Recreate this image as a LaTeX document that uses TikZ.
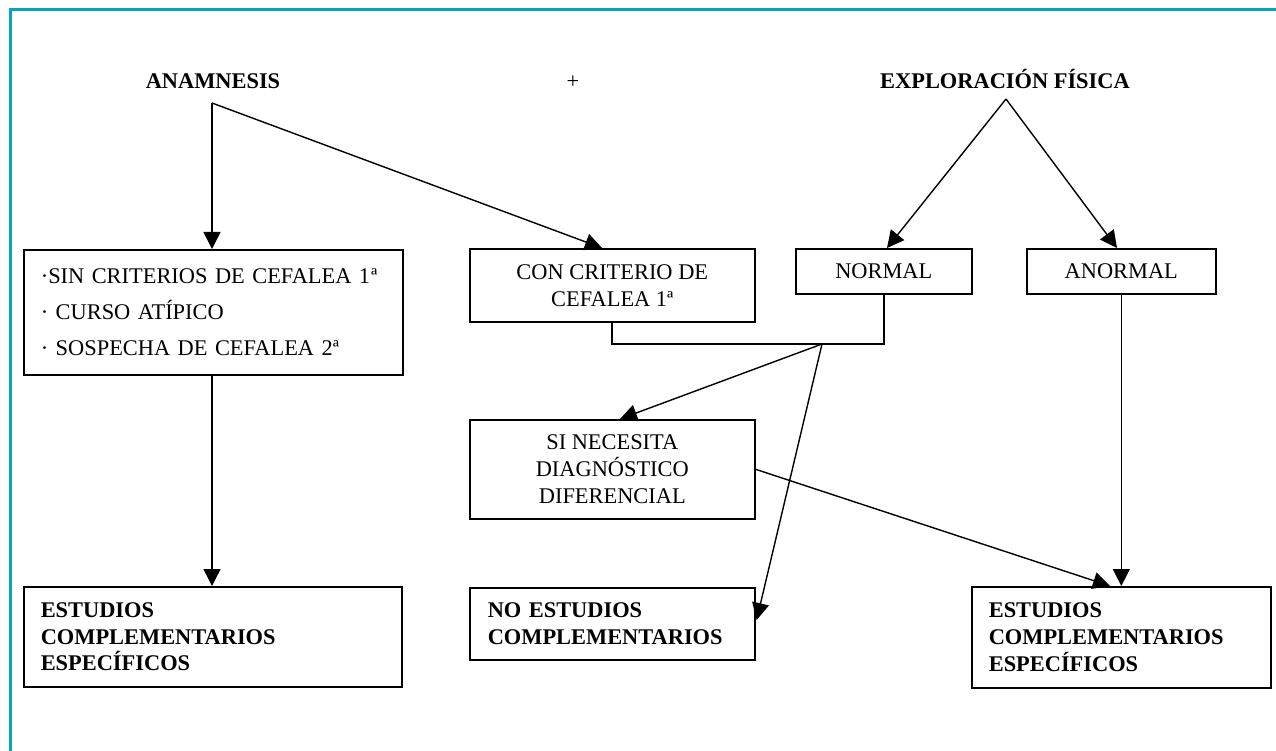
\documentclass[tikz,border=0pt]{standalone}
\usepackage{fontspec}
\setmainfont{Liberation Serif}
\usetikzlibrary{arrows.meta,calc}
\definecolor{frameteal}{HTML}{0AA2C4}
\begin{document}
\begin{tikzpicture}[x=1pt,y=-1pt,
  every node/.style={font=\fontsize{22.4}{27}\selectfont, inner sep=0pt},
  box/.style={draw, line width=1.6pt, anchor=north west},
  lbox/.style={box, align=left, inner xsep=17pt},
  cbox/.style={box, align=center},
  bbox/.style={lbox, font=\fontsize{22.4}{26.7}\selectfont\bfseries},
  hdr/.style={font=\fontsize{22.4}{27}\selectfont\bfseries},
  conn/.style={line width=1.4pt},
  arr/.style={conn, -{Triangle[length=17pt,width=17pt]}}]
\useasboundingbox (0,0) rectangle (1276,751);
% frame
\draw[frameteal, line width=3pt] (10,760) -- (10,10) -- (1290,10);
% headers
\node[hdr, anchor=base] (ana) at (213,89) {ANAMNESIS};
\node[anchor=base] (plus) at (573,89) {+};
\node[hdr, anchor=base] (exp) at (1005,89) {EXPLORACIÓN FÍSICA};
\coordinate (anaA) at (212,103);
\coordinate (expA) at (1006,99);
% boxes row 1
\node[lbox, minimum width=379pt, minimum height=125pt, text width=345pt] (b1) at (23,249)
  {·SIN CRITERIOS DE CEFALEA 1\kern1pt ª\\[9pt] · CURSO ATÍPICO\\[9pt] · SOSPECHA DE CEFALEA 2ª};
\node[cbox, minimum width=285pt, minimum height=73pt] (b2) at (469,248)
  {CON CRITERIO DE\\CEFALEA 1ª};
\node[cbox, minimum width=176pt, minimum height=45pt] (nor) at (795,248) {NORMAL};
\node[cbox, minimum width=189pt, minimum height=45pt] (anor) at (1026,248) {ANORMAL};
% middle
\node[cbox, minimum width=285pt, minimum height=99pt] (dif) at (469,419)
  {SI NECESITA\\DIAGNÓSTICO\\DIFERENCIAL};
% bottom row
\node[bbox, minimum width=378pt, minimum height=100pt, text width=344pt] (e1) at (23,586)
  {ESTUDIOS\\COMPLEMENTARIOS\\ESPECÍFICOS};
\node[bbox, inner xsep=18pt, minimum width=285pt, minimum height=72pt, text width=249pt] (ne) at (469,587)
  {NO ESTUDIOS\\COMPLEMENTARIOS};
\node[bbox, minimum width=299pt, minimum height=101pt, text width=265pt] (e2) at (971,586)
  {ESTUDIOS\\COMPLEMENTARIOS\\ESPECÍFICOS};
% connectors
\draw[arr] (anaA) -- (anaA |- b1.north);
\draw[arr] (anaA) -- ($(b2.north west)+(133,0)$);
\draw[arr] (expA) -- ($(nor.north west)+(92,0)$);
\draw[arr] (expA) -- ($(anor.north west)+(91,0)$);
\coordinate (j) at (822,344);
\draw[conn] ($(b2.south west)+(143,0)$) |- (j) -- (j -| nor.south) -- (nor.south);
\draw[arr] (j) -- ($(dif.north west)+(151,0)$);
\draw[arr] (j) -- ($(ne.north east)+(1,33)$);
\draw[arr] (anaA |- b1.south) -- (anaA |- e1.north);
\draw[arr] (dif.east) -- ($(e2.north west)+(139,0)$);
\draw[arr] (anor.south) -- (e2.north);
\end{tikzpicture}
\end{document}
